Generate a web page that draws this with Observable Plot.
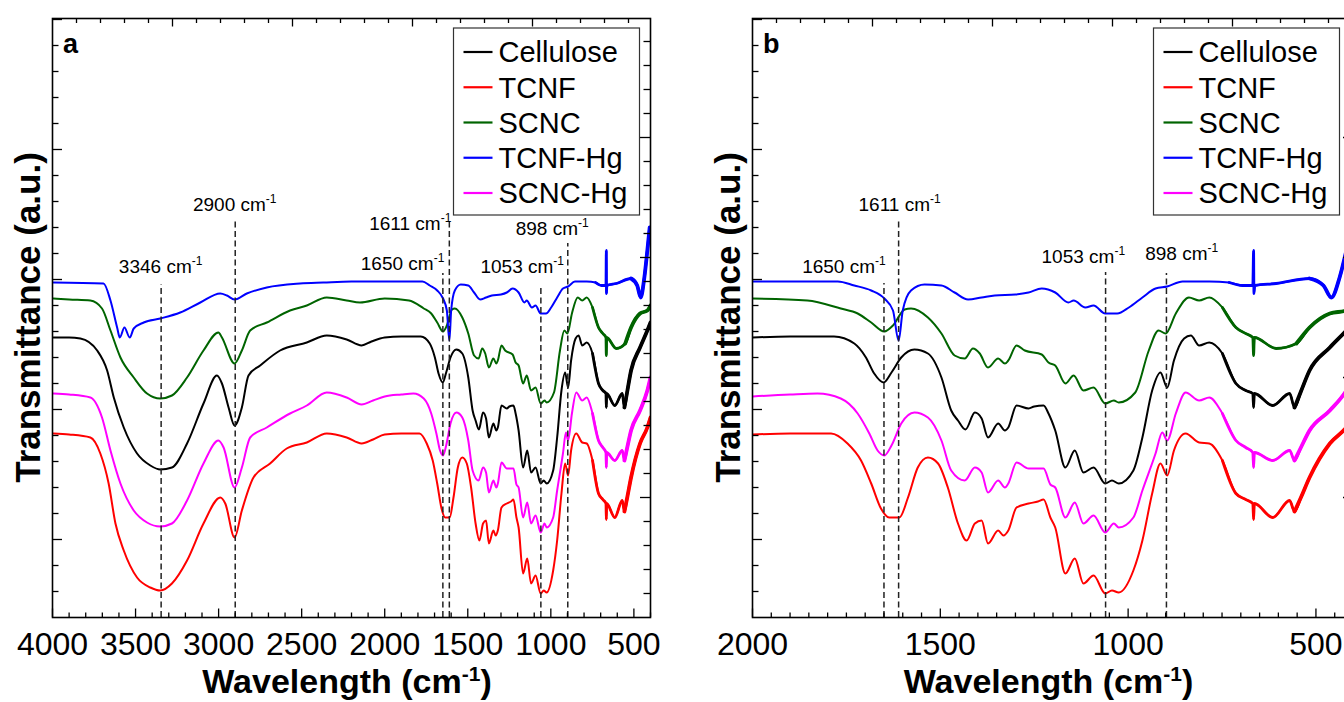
<!DOCTYPE html>
<html><head><meta charset="utf-8">
<script src="https://cdn.jsdelivr.net/npm/d3@7"></script>
<script src="https://cdn.jsdelivr.net/npm/@observablehq/plot@0.6"></script>
<style>
html,body{margin:0;padding:0;background:#fff;overflow:hidden;width:1344px;height:702px;}
#wrap{position:relative;width:1344px;height:702px;overflow:hidden;background:#fff;}
.panel{position:absolute;top:0;width:700px;height:702px;}
.panel svg{max-width:none !important;width:700px !important;height:702px !important;}
</style></head><body><div id="wrap"></div>
<script>
// ---- data (wavenumber cm-1, transmittance in arbitrary units) ----
const seriesNames = ["Cellulose", "TCNF", "SCNC", "TCNF-Hg", "SCNC-Hg"];
const seriesColors = ["#000000", "#ff0000", "#006400", "#0000ff", "#ff00ff"];

const cellulose = [[3994,280],[3900,280],[3832,279],[3731,267],[3671,247],[3631,220],[3571,190],[3491,164],[3411,152],[3351,148],[3281,150],[3190,174],[3091,214],[3010,242],[2980,234],[2940,210],[2904,192],[2860,210],[2820,242],[2750,252],[2630,267],[2469,275],[2349,282],[2229,278],[2139,272],[2080,276],[2000,280],[1900,281],[1783,281],[1729,274],[1698,260],[1676,244],[1651,235],[1630,245],[1604,260],[1569,268],[1533,264],[1497,240],[1471,207],[1453,197],[1433,188],[1408,205],[1390,199],[1373,180],[1346,194],[1328,187],[1319,190],[1297,212],[1265,209],[1250,211],[1225,212],[1212,204],[1194,187],[1167,150],[1142,167],[1119,145],[1092,150],[1061,134],[1043,137],[1025,134],[986,147],[962,180],[936,227],[914,245],[896,230],[878,257],[851,279],[833,282],[811,272],[784,275],[749,264],[713,234],[687,227],[668,224],[666,210],[664,224],[615,212],[570,224],[557,210],[540,226],[517,247],[463,270],[419,287],[400,295]];

const tcnf = [[3994,184],[3900,183],[3772,180],[3712,164],[3662,134],[3621,94],[3571,67],[3491,40],[3411,30],[3351,27],[3281,34],[3190,57],[3091,94],[2990,120],[2960,114],[2904,80],[2860,107],[2790,140],[2690,154],[2590,169],[2469,175],[2349,184],[2229,180],[2139,174],[2070,178],[2000,183],[1900,184],[1791,184],[1747,174],[1711,157],[1684,134],[1658,109],[1636,100],[1609,100],[1586,120],[1560,150],[1533,160],[1506,154],[1480,130],[1453,94],[1430,77],[1408,94],[1390,97],[1373,74],[1346,87],[1332,82],[1319,87],[1297,110],[1265,114],[1240,116],[1225,118],[1207,100],[1194,90],[1167,44],[1142,59],[1119,34],[1092,42],[1061,24],[1043,27],[1025,25],[986,47],[962,77],[936,124],[914,154],[896,142],[878,167],[847,184],[811,175],[784,174],[749,157],[713,124],[687,118],[668,114],[666,98],[664,114],[615,100],[570,117],[557,106],[540,120],[517,140],[463,174],[419,190],[400,200]];

const scnc = [[3994,319],[3900,318],[3772,317],[3702,309],[3651,287],[3591,260],[3511,240],[3431,224],[3351,219],[3281,222],[3190,240],[3091,267],[3001,285],[2980,280],[2904,254],[2860,267],[2810,287],[2710,295],[2570,307],[2469,312],[2349,320],[2229,317],[2149,315],[2000,319],[1854,317],[1765,309],[1720,304],[1684,295],[1649,286],[1626,292],[1595,308],[1578,309],[1533,300],[1497,284],[1462,262],[1435,259],[1413,269],[1395,264],[1373,250],[1346,259],[1328,254],[1319,257],[1297,272],[1275,267],[1230,263],[1212,255],[1194,252],[1167,234],[1145,242],[1119,227],[1092,230],[1061,214],[1038,217],[1025,215],[981,225],[945,267],[919,287],[900,284],[873,304],[838,320],[811,317],[784,320],[749,310],[713,290],[687,284],[668,280],[666,262],[664,280],[606,269],[552,274],[517,290],[463,304],[419,307],[400,312]];

const tcnfHg = [[3994,335],[3693,334],[3651,317],[3611,290],[3595,280],[3567,290],[3535,280],[3511,289],[3451,295],[3351,299],[3231,305],[3110,315],[2990,324],[2950,322],[2904,318],[2830,324],[2710,330],[2510,334],[2370,335],[2200,336],[2000,336],[1773,336],[1729,332],[1684,327],[1649,319],[1626,307],[1611,277],[1600,307],[1578,327],[1542,333],[1497,332],[1462,325],[1426,318],[1390,320],[1355,322],[1300,323],[1265,325],[1230,329],[1194,325],[1159,315],[1145,317],[1114,310],[1092,312],[1061,304],[1029,304],[998,310],[962,320],[927,329],[896,331],[855,336],[784,336],[731,335],[695,332],[668,332],[666,367],[665,324],[663,332],[606,334],[517,339],[480,332],[459,320],[437,340],[419,367],[405,390]];

const scncHg = [[3994,224],[3900,223],[3772,220],[3702,200],[3651,167],[3591,134],[3511,107],[3431,95],[3351,91],[3281,94],[3190,117],[3091,154],[3001,177],[2970,170],[2904,130],[2860,150],[2810,180],[2710,190],[2570,204],[2469,212],[2349,225],[2229,220],[2139,213],[2070,217],[2000,221],[1900,223],[1827,224],[1765,219],[1720,204],[1689,184],[1667,167],[1649,162],[1630,172],[1604,194],[1569,205],[1533,200],[1497,177],[1471,147],[1435,137],[1408,150],[1390,145],[1373,125],[1346,137],[1328,130],[1319,134],[1297,155],[1265,149],[1225,149],[1207,133],[1194,130],[1167,100],[1142,115],[1119,94],[1092,102],[1061,85],[1038,94],[1025,90],[986,100],[962,127],[927,164],[909,185],[896,177],[873,204],[847,225],[811,217],[784,220],[749,204],[713,177],[687,170],[668,165],[666,150],[664,165],[615,157],[570,167],[557,157],[540,170],[517,187],[463,207],[419,227],[400,240]];

// peak marker lines (position, top of dashed line)
const markersA = [{w:3346, top:333},{w:2900, top:397},{w:1650, top:344},{w:1611, top:397},{w:1060, top:330},{w:898, top:374}];
const markersB = [{w:1650, top:334},{w:1611, top:397},{w:1060, top:345},{w:898, top:344}];
// peak labels
const labelsA = [{t:"3346", x:3346, y:344, a:"middle"},{t:"2900", x:2900, y:406, a:"middle"},{t:"1650", x:1638, y:347, a:"end"},{t:"1611", x:1596, y:387, a:"end"},{t:"1053", x:1169, y:344, a:"middle"},{t:"898", x:989, y:382, a:"middle"}];
const labelsB = [{t:"1650", x:1644, y:344, a:"end"},{t:"1611", x:1607, y:406, a:"middle"},{t:"1053", x:1118, y:354, a:"middle"},{t:"898", x:856, y:357, a:"middle"}];
const xTickLabelsA = [4000, 3500, 3000, 2500, 2000, 1500, 1000, 500];
const xTickLabelsB = [2000, 1500, 1000, 500];

const allSeries = [cellulose, tcnf, scnc, tcnfHg, scncHg];
const rows = allSeries.flatMap((s, i) => s.map(([w, v]) => ({name: seriesNames[i], w, v})));

const FONT = "'Liberation Sans', Arial, Helvetica, sans-serif";

function makePanel(cfg) {
  const W = 700, H = 702, mL = 52, mT = 18, mB = 85, mR = cfg.marginRight;
  const fw = W - mL - mR, fh = H - mT - mB;
  const xs = d3.scaleLinear(cfg.domain, [mL, W - mR]);
  const ys = d3.scaleLinear([0, fh], [H - mB, mT]);
  const hi = cfg.domain[0], lo = cfg.domain[1];
  const bottomAll = d3.range(hi, lo - 1e-6, -cfg.minorStep);
  const bottomMajor = bottomAll.filter(w => w % 500 === 0);
  const bottomMinor = bottomAll.filter(w => w % 500 !== 0);
  const topK = d3.range(1, Math.floor((fw - 1) / 24) + 1);
  const topMajor = topK.filter(k => k % 5 === 0).map(k => xs.invert(mL + 24 * k));
  const topMinor = topK.filter(k => k % 5 !== 0).map(k => xs.invert(mL + 24 * k));
  const leftK = d3.range(1, Math.floor((fh - 1) / 26) + 1);
  const leftMajor = leftK.filter(k => k % 5 === 3).map(k => 26 * k);
  const leftMinor = leftK.filter(k => k % 5 !== 3).map(k => 26 * k);
  const rightK = d3.range(1, Math.floor((fh - 1) / 24) + 1);
  const rightMajor = rightK.filter(k => k % 5 === 0).map(k => 24 * k);
  const rightMinor = rightK.filter(k => k % 5 !== 0).map(k => 24 * k);
  const data = rows.filter(d => d.w <= hi + 1);
  const lineOpts = {x: "w", y: "v", z: "name", stroke: "name", clip: true, strokeLinejoin: "round", curve: "monotone-x"};
  const tk = {stroke: "#000", strokeWidth: 1.3};

  const svg = Plot.plot({
    width: W, height: H, marginLeft: mL, marginRight: mR, marginTop: mT, marginBottom: mB,
    style: {background: "white", fontFamily: FONT, overflow: "visible", color: "#000", maxWidth: "none"},
    x: {domain: cfg.domain, axis: null},
    y: {domain: [0, fh], axis: null},
    color: {domain: seriesNames, range: seriesColors},
    marks: [
      Plot.line(data, {...lineOpts, strokeWidth: 2}),
      Plot.line(data.filter(d => d.w <= 760), {...lineOpts, strokeWidth: 2.8}),
      Plot.line(data.filter(d => d.w <= 560), {...lineOpts, strokeWidth: 3.8}),
      Plot.ruleX(cfg.markers, {x: "w", y1: 0, y2: "top", stroke: "#222", strokeWidth: 1.5, strokeDasharray: "6,3.5"}),
      Plot.tickX(bottomMinor, {x: d => d, insetTop: fh - 4.5, ...tk}),
      Plot.tickX(bottomMajor, {x: d => d, insetTop: fh - 8.5, ...tk}),
      Plot.tickX(topMinor, {x: d => d, insetBottom: fh - 5, ...tk}),
      Plot.tickX(topMajor, {x: d => d, insetBottom: fh - 8.5, ...tk}),
      Plot.tickY(leftMinor, {y: d => d, insetRight: fw - 6.5, ...tk}),
      Plot.tickY(leftMajor, {y: d => d, insetRight: fw - 10, ...tk}),
      Plot.tickY(rightMinor, {y: d => d, insetLeft: fw - 6.5, ...tk}),
      Plot.tickY(rightMajor, {y: d => d, insetLeft: fw - 10, ...tk}),
      Plot.frame({stroke: "#000", strokeWidth: 1.6}),
      Plot.axisX(cfg.tickLabels, {anchor: "bottom", tickSize: 0, tickPadding: 15, fontSize: 32, tickFormat: d => String(d), label: null, fill: "#000"})
    ]
  });

  const g = d3.select(svg).append("g").attr("font-family", FONT).attr("fill", "#000").attr("text-anchor", "start");
  // panel letter
  g.append("text").attr("x", mL + 11).attr("y", 53).attr("font-size", 27).attr("font-weight", "bold").attr("text-anchor", "start").text(cfg.letter);
  // peak labels
  for (const l of cfg.labels) {
    const t = g.append("text").attr("x", xs(l.x)).attr("y", ys(l.y)).attr("font-size", 19).attr("text-anchor", l.a);
    t.append("tspan").text(l.t + " cm");
    t.append("tspan").attr("font-size", 12).attr("dy", -8).text("-1");
  }
  // legend
  const lx = mL + 401.5, ly = 28;
  g.append("rect").attr("x", lx).attr("y", ly).attr("width", 186).attr("height", 187)
    .attr("fill", "white").attr("stroke", "#333").attr("stroke-width", 1.2);
  seriesNames.forEach((n, i) => {
    const cy = 52 + i * 35.25;
    g.append("line").attr("x1", lx + 10).attr("x2", lx + 39).attr("y1", cy).attr("y2", cy)
      .attr("stroke", seriesColors[i]).attr("stroke-width", 2.2);
    g.append("text").attr("x", lx + 45).attr("y", cy + 10.3).attr("font-size", 29).attr("text-anchor", "start").text(n);
  });
  // axis titles
  const xt = g.append("text").attr("x", (mL + W - mR) / 2 - 4).attr("y", 693).attr("text-anchor", "middle")
    .attr("font-size", 34).attr("font-weight", "bold");
  xt.append("tspan").text("Wavelength (cm");
  xt.append("tspan").attr("font-size", 21).attr("dy", -12).text("-1");
  xt.append("tspan").attr("dy", 12).text(")");
  g.append("text").attr("transform", `translate(40,${(mT + H - mB) / 2}) rotate(-90)`).attr("text-anchor", "middle")
    .attr("font-size", 35).attr("font-weight", "bold").text("Transmittance (a.u.)");
  return svg;
}

const wrap = document.getElementById("wrap");
const pa = makePanel({letter: "a", domain: [4000, 400], marginRight: 50, minorStep: 100, markers: markersA, labels: labelsA, tickLabels: xTickLabelsA});
const pb = makePanel({letter: "b", domain: [2000, 400], marginRight: 47, minorStep: 50, markers: markersB, labels: labelsB, tickLabels: xTickLabelsB});
const da = document.createElement("div"); da.className = "panel"; da.style.left = "0px"; da.appendChild(pa);
const db = document.createElement("div"); db.className = "panel"; db.style.left = "700px"; db.appendChild(pb);
wrap.appendChild(da); wrap.appendChild(db);
</script></body></html>
